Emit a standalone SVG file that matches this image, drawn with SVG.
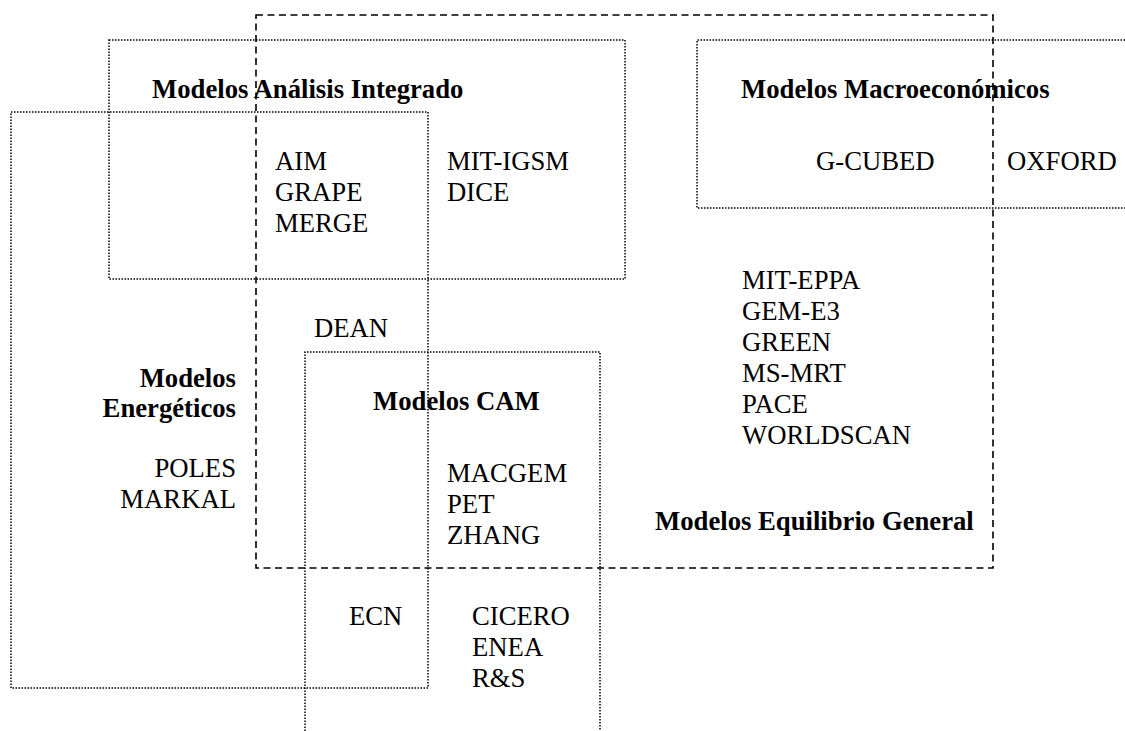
<svg xmlns="http://www.w3.org/2000/svg" width="1125" height="731" viewBox="0 0 1125 731">
<style>
.dot{fill:none;stroke:#000;stroke-width:1.5;stroke-dasharray:1.5 1.5}
.dash{fill:none;stroke:#000;stroke-width:1.6;stroke-dasharray:7 4.5}
text{font-family:"Liberation Serif","Times New Roman",serif;font-size:26.7px;fill:#000}
.b{font-weight:bold}
.r{text-anchor:end}
</style>
<rect width="1125" height="731" fill="#fff"/>
<g id="connectors">
</g>
<g id="equilibrio">
<rect class="dash" x="256" y="15" width="737" height="553"/>
<text class="b" x="655" y="530">Modelos Equilibrio General</text>
<text x="742" y="289">MIT-EPPA</text>
<text x="742" y="320">GEM-E3</text>
<text x="742" y="351">GREEN</text>
<text x="742" y="382">MS-MRT</text>
<text x="742" y="413">PACE</text>
<text x="742" y="444">WORLDSCAN</text>
</g>
<g id="analisis">
<rect class="dot" x="109" y="40" width="516" height="239"/>
<text class="b" x="152" y="98">Modelos Análisis Integrado</text>
<text x="275" y="170">AIM</text>
<text x="275" y="201">GRAPE</text>
<text x="275" y="232">MERGE</text>
<text x="447" y="170">MIT-IGSM</text>
<text x="447" y="201">DICE</text>
</g>
<g id="macro">
<path class="dot" d="M1125 40 H697 V208 H1125"/>
<text class="b" x="741" y="98">Modelos Macroeconómicos</text>
<text x="816" y="170">G-CUBED</text>
<text x="1007" y="170">OXFORD</text>
</g>
<g id="energeticos">
<rect class="dot" x="11" y="112" width="417" height="576"/>
<text class="b r" x="236" y="387">Modelos</text>
<text class="b r" x="236" y="417">Energéticos</text>
<text class="r" x="236" y="477">POLES</text>
<text class="r" x="236" y="508">MARKAL</text>
<text x="314" y="337">DEAN</text>
<text x="349" y="625">ECN</text>
</g>
<g id="cam">
<path class="dot" d="M305 731 V352 H600 V731"/>
<text class="b" x="373" y="410">Modelos CAM</text>
<text x="447" y="482">MACGEM</text>
<text x="447" y="513">PET</text>
<text x="447" y="544">ZHANG</text>
<text x="472" y="625">CICERO</text>
<text x="472" y="656">ENEA</text>
<text x="472" y="687">R&amp;S</text>
</g>
</svg>
